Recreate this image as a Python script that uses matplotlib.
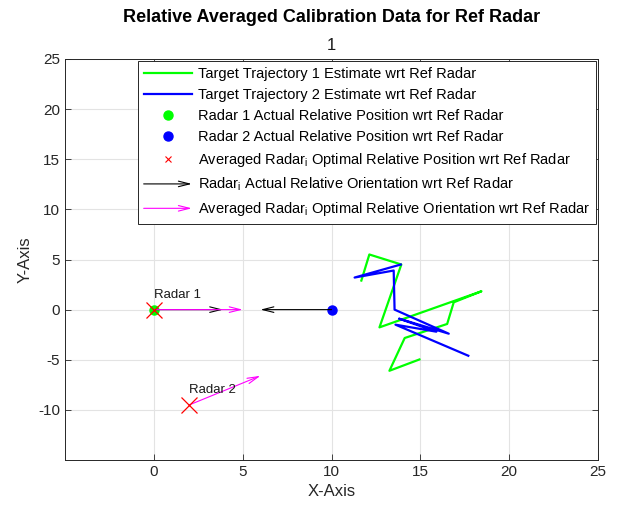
import matplotlib
matplotlib.use("Agg")
import matplotlib.pyplot as plt
from matplotlib.lines import Line2D
from matplotlib.patches import FancyArrowPatch
from matplotlib.legend_handler import HandlerBase

plt.rcParams['font.family'] = ['Liberation Sans', 'DejaVu Sans']
plt.rcParams['mathtext.fontset'] = 'custom'
plt.rcParams['mathtext.rm'] = 'Liberation Sans'
plt.rcParams['mathtext.it'] = 'Liberation Sans'
plt.rcParams['axes.unicode_minus'] = False

# Data
traj1_x = [11.68, 12.13, 13.93, 12.70, 18.44, 16.88, 16.51, 14.12, 13.26, 14.95]
traj1_y = [2.9, 5.5, 4.5, -1.77, 1.83, 0.73, -1.43, -2.83, -6.1, -4.97]
traj2_x = [13.9, 11.3, 13.5, 13.55, 16.6, 13.8, 15.9, 13.6, 17.7]
traj2_y = [4.5, 3.2, 3.9, 0.0, -2.4, -0.9, -2.2, -1.5, -4.6]

radar_actual_x = [0, 10]
radar_actual_y = [0, 0]
radar_opt_x = [0, 2]
radar_opt_y = [0, -9.5]
radar_names = ['Radar 1', 'Radar 2']

# orientation vectors (u, v)
actual_u = [3.9, -4.0]
actual_v = [0.0, 0.0]
opt_u = [5.0, 4.0]
opt_v = [0.0, 2.9]

xticks = [0, 5, 10, 15, 20, 25]
yticks = [-10, -5, 0, 5, 10, 15, 20, 25]

fig = plt.figure(figsize=(6.23, 5.13), dpi=100)
ax = fig.add_axes([65/623, 1-460/513, (598-65)/623, (460-59)/513])

ax.plot(traj1_x, traj1_y, color=(0, 1, 0), lw=1.6, zorder=3)
ax.plot(traj2_x, traj2_y, color=(0, 0, 1), lw=1.6, zorder=3)
ax.plot(radar_actual_x[0], radar_actual_y[0], 'o', color=(0, 1, 0), ms=6.5, zorder=4)
ax.plot(radar_actual_x[1], radar_actual_y[1], 'o', color=(0, 0, 1), ms=6.5, zorder=4)

arrow_style = '->,head_length=0.8,head_width=0.2'
for i in range(2):
    ax.annotate('', xy=(radar_actual_x[i] + actual_u[i], radar_actual_y[i] + actual_v[i]),
                xytext=(radar_actual_x[i], radar_actual_y[i]),
                arrowprops=dict(arrowstyle=arrow_style, color='black', lw=0.8,
                                shrinkA=0, shrinkB=0), zorder=5)
for i in range(2):
    ax.annotate('', xy=(radar_opt_x[i] + opt_u[i], radar_opt_y[i] + opt_v[i]),
                xytext=(radar_opt_x[i], radar_opt_y[i]),
                arrowprops=dict(arrowstyle=arrow_style, color=(1, 0, 1), lw=0.8,
                                shrinkA=0, shrinkB=0), zorder=6)

ax.plot(radar_opt_x, radar_opt_y, 'x', color='red', ms=12, mew=0.9, ls='none', zorder=7)

for i in range(2):
    ax.text(radar_opt_x[i], radar_opt_y[i] + 1.45, radar_names[i], fontsize=9.5,
            ha='left', va='center', color='#1a1a1a', zorder=8)

ax.set_xlim(-5, 25)
ax.set_ylim(-15, 25)
ax.set_xticks(xticks)
ax.set_yticks(yticks)
ax.grid(True, color='#e3e3e3', lw=0.8)
ax.set_axisbelow(True)
ax.tick_params(direction='in', length=4, width=0.6, colors='#262626', labelsize=11,
               top=True, right=True)
for s in ax.spines.values():
    s.set_color('#262626')
    s.set_linewidth(0.7)
ax.set_xlabel('X-Axis', fontsize=12, color='#262626', labelpad=4)
ax.set_ylabel('Y-Axis', fontsize=12, color='#262626', labelpad=4)

ax.text(0.5, 1 + (59-18)/401, 'Relative Averaged Calibration Data for Ref Radar',
        transform=ax.transAxes, ha='center', va='center', fontsize=13, fontweight='bold')
ax.text(0.5, 1 + (59-45)/401, '1', transform=ax.transAxes, ha='center', va='center',
        fontsize=12, color='#1a1a1a')


class HandlerArrow(HandlerBase):
    def create_artists(self, legend, orig_handle, xdescent, ydescent, width, height,
                       fontsize, trans):
        y = height / 2 - ydescent
        p = FancyArrowPatch((-xdescent, y), (width - xdescent, y),
                            arrowstyle=arrow_style, color=orig_handle.get_color(),
                            lw=0.8, mutation_scale=10, shrinkA=0, shrinkB=0,
                            transform=trans)
        return [p]


h1 = Line2D([], [], color=(0, 1, 0), lw=1.6)
h2 = Line2D([], [], color=(0, 0, 1), lw=1.6)
h3 = Line2D([], [], marker='o', color=(0, 1, 0), ls='none', ms=6.5)
h4 = Line2D([], [], marker='o', color=(0, 0, 1), ls='none', ms=6.5)
h5 = Line2D([], [], marker='x', color='red', ls='none', ms=5, mew=0.8)
h6 = Line2D([], [], color='black')
h7 = Line2D([], [], color=(1, 0, 1))
labels = ['Target Trajectory 1 Estimate wrt Ref Radar',
          'Target Trajectory 2 Estimate wrt Ref Radar',
          'Radar 1 Actual Relative Position wrt Ref Radar',
          'Radar 2 Actual Relative Position wrt Ref Radar',
          r'Averaged Radar$_\mathrm{i}$ Optimal Relative Position wrt Ref Radar',
          r'Radar$_\mathrm{i}$ Actual Relative Orientation wrt Ref Radar',
          r'Averaged Radar$_\mathrm{i}$ Optimal Relative Orientation wrt Ref Radar']
leg = ax.legend([h1, h2, h3, h4, h5, h6, h7], labels, loc='upper right',
                handler_map={h6: HandlerArrow(), h7: HandlerArrow()},
                fontsize=10.5, handlelength=3.3, handletextpad=0.4, borderpad=0.4,
                labelspacing=0.48, fancybox=False, framealpha=1, edgecolor='#262626',
                borderaxespad=0.15)
leg.get_frame().set_linewidth(0.7)

fig.savefig('out.png', dpi=100)
